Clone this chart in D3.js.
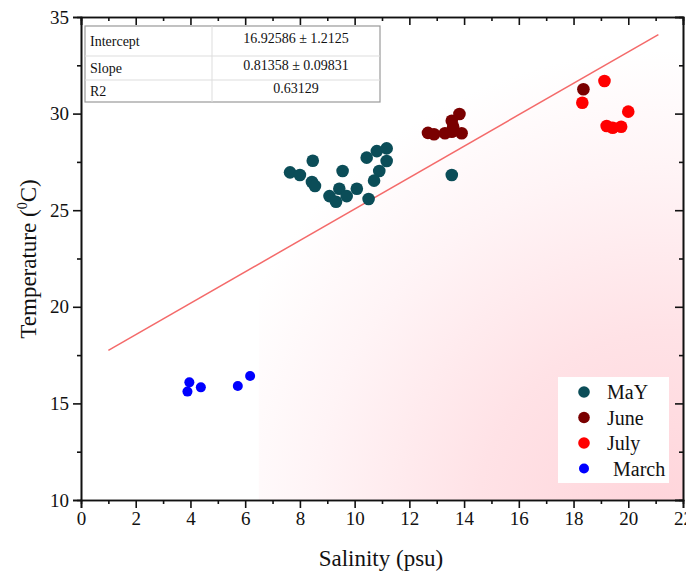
<!DOCTYPE html>
<html>
<head>
<meta charset="utf-8">
<script src="https://cdn.jsdelivr.net/npm/d3@7"></script>
<style>
  body { margin: 0; background: #fff; }
  svg { display: block; }
  svg text { font-family: "Liberation Serif", "Times New Roman", serif; }
</style>
</head>
<body>
<svg width="686" height="578"></svg>
<script>
// Salinity (psu) and temperature (°C) per sampling month
const maySal   = [7.64, 8.0, 8.47, 8.44, 8.55, 9.08, 9.32, 9.44, 9.56, 9.71, 10.08, 10.44, 10.81, 11.17, 11.17, 10.9, 10.71, 10.51, 13.55];
const mayTemp  = [26.96, 26.82, 27.56, 26.46, 26.25, 25.73, 25.44, 26.11, 27.03, 25.73, 26.11, 27.72, 28.06, 28.2, 27.55, 27.03, 26.53, 25.58, 26.82];
const juneSal  = [12.68, 12.9, 13.3, 13.55, 13.83, 13.6, 13.91, 13.55, 18.36];
const juneTemp = [29.0, 28.93, 28.98, 29.63, 29.98, 29.32, 28.98, 29.06, 31.26];
const julySal  = [19.13, 18.32, 20.0, 19.21, 19.43, 19.74];
const julyTemp = [31.69, 30.56, 30.1, 29.36, 29.27, 29.32];
const marchSal  = [3.96, 3.89, 4.38, 5.73, 6.18];
const marchTemp = [16.09, 15.61, 15.83, 15.9, 16.42];

const seriesNames = ["MaY", "June", "July", "March"];
const seriesColors = ["#0b4d58", "#7a0000", "#ff0000", "#0000ff"];

// linear fit results
const fitIntercept = 16.92586;
const fitSlope = 0.81358;
const fitRange = [1, 21.1];
const statRows = [
  ["Intercept", "16.92586 \u00b1 1.2125"],
  ["Slope", "0.81358 \u00b1 0.09831"],
  ["R2", "0.63129"]
];

const xTicks = d3.range(0, 23, 2);
const yTicks = [10, 15, 20, 25, 30, 35];

const svg = d3.select("svg");
const x = d3.scaleLinear().domain([0, 22]).range([81, 683]);
const y = d3.scaleLinear().domain([10, 35]).range([500, 17]);

// pink shading in the lower right of the plot area
const defs = svg.append("defs");
const grad = defs.append("radialGradient")
  .attr("id", "shade")
  .attr("gradientUnits", "userSpaceOnUse")
  .attr("cx", 665).attr("cy", 520).attr("r", 470);
grad.append("stop").attr("offset", 0).attr("stop-color", "#ffd4da");
grad.append("stop").attr("offset", 0.4).attr("stop-color", "#ffe2e6");
grad.append("stop").attr("offset", 0.75).attr("stop-color", "#fff4f6");
grad.append("stop").attr("offset", 1).attr("stop-color", "#ffffff");

svg.append("rect")
  .attr("x", x(6.5)).attr("y", y(35))
  .attr("width", x(22) - x(6.5)).attr("height", y(10) - y(35))
  .attr("fill", "url(#shade)");

// axes: outer ticks on bottom/left, mirrored inner ticks on top/right
const bottom = d3.axisBottom(x).tickValues(xTicks).tickSize(8).tickPadding(4);
const left = d3.axisLeft(y).tickValues(yTicks).tickSize(8).tickPadding(4);

svg.append("g").attr("transform", `translate(0,${y(10)})`).call(bottom);
svg.append("g").attr("transform", `translate(${x(0)},0)`).call(left);

svg.append("g").attr("transform", `translate(0,${y(35)})`)
  .call(d3.axisBottom(x).tickValues(xTicks).tickSize(8).tickFormat(""));
svg.append("g").attr("transform", `translate(${x(22)},0)`)
  .call(d3.axisLeft(y).tickValues(yTicks).tickSize(8).tickFormat(""));

// minor ticks
const xMinor = d3.range(1, 22, 2);
const yMinor = [12.5, 17.5, 22.5, 27.5, 32.5];
svg.append("g").attr("transform", `translate(0,${y(10)})`)
  .call(d3.axisBottom(x).tickValues(xMinor).tickSize(4).tickFormat(""));
svg.append("g").attr("transform", `translate(0,${y(35)})`)
  .call(d3.axisBottom(x).tickValues(xMinor).tickSize(4).tickFormat(""));
svg.append("g").attr("transform", `translate(${x(0)},0)`)
  .call(d3.axisLeft(y).tickValues(yMinor).tickSize(4).tickFormat(""));
svg.append("g").attr("transform", `translate(${x(22)},0)`)
  .call(d3.axisLeft(y).tickValues(yMinor).tickSize(4).tickFormat(""));

svg.selectAll(".domain").attr("stroke", "#111").attr("stroke-width", 1.6);
svg.selectAll(".tick line").attr("stroke", "#111").attr("stroke-width", 1.6);
svg.selectAll(".tick text")
  .style("font-family", "'Liberation Serif', serif")
  .style("font-size", "19px")
  .attr("fill", "#111");

// axis titles
svg.append("text")
  .attr("x", 381).attr("y", 566)
  .attr("text-anchor", "middle")
  .attr("font-size", 23)
  .attr("fill", "#111")
  .text("Salinity (psu)");

const yTitle = svg.append("text")
  .attr("transform", "translate(36,259) rotate(-90)")
  .attr("text-anchor", "middle")
  .attr("font-size", 23)
  .attr("fill", "#111");
yTitle.append("tspan").text("Temperature (");
yTitle.append("tspan").attr("font-size", 14).attr("dy", -9).text("0");
yTitle.append("tspan").attr("dy", 9).text("C)");

// regression line
svg.append("line")
  .attr("x1", x(fitRange[0])).attr("y1", y(fitIntercept + fitSlope * fitRange[0]))
  .attr("x2", x(fitRange[1])).attr("y2", y(fitIntercept + fitSlope * fitRange[1]))
  .attr("stroke", "#f46a6a")
  .attr("stroke-width", 1.5);

// scatter points
const series = [
  { sal: maySal, temp: mayTemp, r: 6.3 },
  { sal: juneSal, temp: juneTemp, r: 6.3 },
  { sal: julySal, temp: julyTemp, r: 6.3 },
  { sal: marchSal, temp: marchTemp, r: 5 }
];
series.forEach((s, i) => {
  svg.append("g").selectAll("circle")
    .data(s.sal.map((v, j) => [v, s.temp[j]]))
    .join("circle")
    .attr("cx", d => x(d[0]))
    .attr("cy", d => y(d[1]))
    .attr("r", s.r)
    .attr("fill", seriesColors[i]);
});

// fit statistics table
const table = svg.append("g").attr("transform", "translate(85,26)");
const rowH = [30, 24, 22];
const colW = [127, 168];
table.append("rect")
  .attr("width", colW[0] + colW[1]).attr("height", d3.sum(rowH))
  .attr("fill", "#fff").attr("stroke", "#999").attr("stroke-width", 1.2);
let ty = 0;
statRows.forEach((row, i) => {
  if (i > 0) {
    table.append("line").attr("x1", 0).attr("x2", colW[0] + colW[1])
      .attr("y1", ty).attr("y2", ty).attr("stroke", "#ddd");
  }
  table.append("text").attr("x", 5).attr("y", ty + rowH[i] / 2 + 5)
    .attr("font-size", 14).attr("fill", "#111").text(row[0]);
  table.append("text").attr("x", colW[0] + colW[1] / 2).attr("y", ty + rowH[i] / 2 + 2)
    .attr("text-anchor", "middle").attr("font-size", 14).attr("fill", "#111").text(row[1]);
  ty += rowH[i];
});
table.append("line").attr("x1", colW[0]).attr("x2", colW[0])
  .attr("y1", 0).attr("y2", d3.sum(rowH)).attr("stroke", "#ddd");

// legend
const legend = svg.append("g").attr("transform", "translate(558,377)");
legend.append("rect").attr("width", 111).attr("height", 106).attr("fill", "#fff");
seriesNames.forEach((name, i) => {
  const ly = 15 + i * 25.5;
  legend.append("circle").attr("cx", 26).attr("cy", ly)
    .attr("r", i === 3 ? 5 : 5.8).attr("fill", seriesColors[i]);
  legend.append("text").attr("x", i === 3 ? 55 : 49).attr("y", ly + 7)
    .attr("font-size", 20).attr("fill", "#111").text(name);
});
</script>
</body>
</html>
